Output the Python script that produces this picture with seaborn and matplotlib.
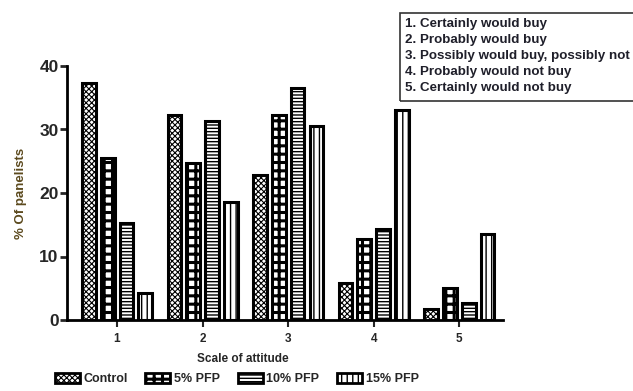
import pandas as pd, numpy as np
import matplotlib; matplotlib.use("Agg")
import matplotlib.pyplot as plt
from matplotlib.patches import Patch, Rectangle
import seaborn as sns

sns.set_theme(style="white")
plt.rcParams["font.family"] = ["Liberation Sans", "DejaVu Sans"]
plt.rcParams["hatch.linewidth"] = 1.0

scale = ["1", "2", "3", "4", "5"]
groups = ["Control", "5% PFP", "10% PFP", "15% PFP"]
control = [37.4, 32.3, 22.9, 5.9, 1.8]
pfp5 = [25.5, 24.7, 32.3, 12.8, 5.1]
pfp10 = [15.3, 31.4, 36.5, 14.4, 2.6]
pfp15 = [4.2, 18.6, 30.5, 33.1, 13.6]
box_lines = ["1. Certainly would buy", "2. Probably would buy",
             "3. Possibly would buy, possibly not", "4. Probably would not buy",
             "5. Certainly would not buy"]

df = pd.DataFrame({"scale": scale * 4,
                   "group": np.repeat(groups, 5),
                   "pct": control + pfp5 + pfp10 + pfp15})
hatches = ["xxxxxx", "++", "-----", "|||"]
hatch_lw = [0.8, 2.2, 1.0, 1.0]

def style_hatch(p, h, lw):
    p.set_hatch(h)
    if hasattr(p, "set_hatch_linewidth"):
        p.set_hatch_linewidth(lw)

fig = plt.figure(figsize=(6.33, 3.91), dpi=100)
ax = fig.add_axes([67/633, 1-320/391, (503-67)/633, (320-66)/391])
sns.barplot(data=df, x="scale", y="pct", hue="group", hue_order=groups,
            palette=["white"]*4, width=0.88, gap=0.27, edgecolor="black",
            linewidth=2.2, legend=False, ax=ax)
for cont, h, lw in zip(ax.containers, hatches, hatch_lw):
    for p in cont:
        style_hatch(p, h, lw)

ax.set_ylim(0, 40); ax.set_xlim(-0.585, 4.51)
ax.set_yticks([0, 10, 20, 30, 40])
for s in ["top", "right"]:
    ax.spines[s].set_visible(False)
for s in ["left", "bottom"]:
    ax.spines[s].set_linewidth(2); ax.spines[s].set_color("black")
ax.tick_params(axis="y", direction="out", length=5, width=2, labelsize=12.5, pad=1, left=True)
ax.tick_params(axis="x", direction="out", length=5, width=1.5, labelsize=8.5, pad=4, bottom=True)
for t in ax.get_yticklabels() + ax.get_xticklabels():
    t.set_fontweight("bold")
ax.set_xlabel("Scale of attitude", fontsize=8.5, fontweight="bold")
ax.xaxis.set_label_coords((243-67)/436, -33/254)
ax.set_ylabel("% Of panelists", fontsize=9.5, fontweight="bold", color="#5c4a1e", labelpad=9)

handles = [Patch(facecolor="white", edgecolor="black", linewidth=2, hatch=h) for h in hatches]
leg = fig.legend(handles, groups, loc="center", bbox_to_anchor=(0.374, 1-379/391), ncol=4,
                 frameon=False, fontsize=9, handlelength=2.0, handleheight=0.9,
                 columnspacing=1.4, handletextpad=0.3)
for t in leg.get_texts():
    t.set_fontweight("bold")
for hp, lw in zip(leg.get_patches(), hatch_lw):
    if hasattr(hp, "set_hatch_linewidth"):
        hp.set_hatch_linewidth(lw)

fig.patches.append(Rectangle((400/633, 1-101/391), 0.5, 88/391, transform=fig.transFigure,
                             fill=False, edgecolor="#333333", linewidth=1.2))
for i, line in enumerate(box_lines):
    fig.text(405/633, 1-(24+16*i)/391, line, fontsize=9.6, fontweight="bold",
             color="#1f1f2a", va="center", ha="left")

fig.savefig("out.png", dpi=100)
